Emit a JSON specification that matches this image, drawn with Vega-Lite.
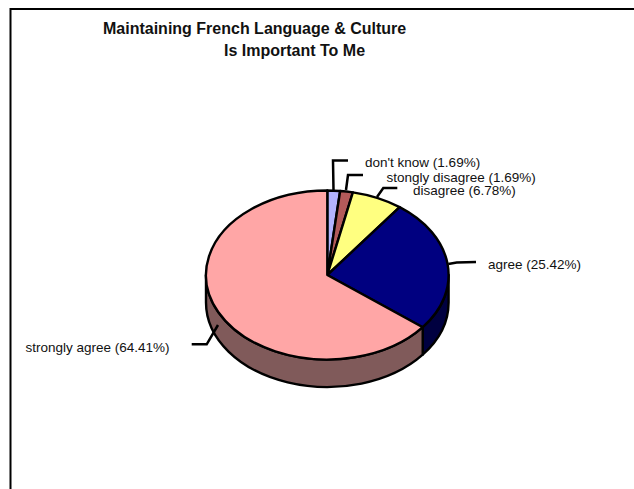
{
"$schema":"https://vega.github.io/schema/vega-lite/v6.json",
"width":634,"height":489,"padding":0,"autosize":{"type":"none"},"background":"white",
"config":{"view":{"stroke":null},"font":"Liberation Sans"},
"data":{"values":[
{"answer":"don't know","percent":1.69,"order":1},
{"answer":"stongly disagree","percent":1.69,"order":2},
{"answer":"disagree","percent":6.78,"order":3},
{"answer":"agree","percent":25.42,"order":4},
{"answer":"strongly agree","percent":64.41,"order":5}
]},
"resolve":{"scale":{"shape":"independent","color":"independent"}},
"layer":[
{"data":{"values":[{"part":"frame"}]},
 "mark":{"type":"point","filled":false,"stroke":"black","strokeWidth":2,"size":4,"opacity":1,"shape":"M-306.5,244.5 L-306.5,-235.5 L317,-235.5"}},
{"transform":[{"filter":"datum.order>=4"}],
 "mark":{"type":"point","filled":true,"opacity":1,"stroke":"black","strokeWidth":2.4,"strokeJoin":"round","size":4},
 "encoding":{
  "shape":{"field":"answer","type":"nominal","legend":null,"scale":{"domain":["agree","strongly agree"],"range":[
   "M105.71,82.68 A121.3,84.5 0 0 0 131.6,30.5 L131.6,58 A121.3,84.5 0 0 1 105.71,110.18 Z",
   "M-111,30.5 A121.3,84.5 0 0 0 105.71,82.68 L105.71,110.18 A121.3,84.5 0 0 1 -111,58 Z"]}},
  "color":{"field":"answer","type":"nominal","legend":null,"scale":{"domain":["agree","strongly agree"],"range":["#000040","#805A5A"]}}
 }},
{"mark":{"type":"point","filled":true,"opacity":1,"stroke":"black","strokeWidth":2.4,"strokeJoin":"round","size":4},
 "encoding":{
  "shape":{"field":"answer","type":"nominal","legend":null,"scale":{"domain":["don't know","stongly disagree","disagree","agree","strongly agree"],"range":[
   "M10.3,30.5 L10.3,-54 A121.3,84.5 0 0 1 23.16,-53.52 Z",
   "M10.3,30.5 L23.16,-53.52 A121.3,84.5 0 0 1 35.87,-52.1 Z",
   "M10.3,30.5 L35.87,-52.1 A121.3,84.5 0 0 1 82.64,-37.33 Z",
   "M10.3,30.5 L82.64,-37.33 A121.3,84.5 0 0 1 105.71,82.68 Z",
   "M10.3,30.5 L105.71,82.68 A121.3,84.5 0 1 1 10.3,-54 Z"]}},
  "color":{"field":"answer","type":"nominal","legend":null,"scale":{"domain":["don't know","stongly disagree","disagree","agree","strongly agree"],"range":["#B3B3FF","#B35A5A","#FFFF80","#000080","#FFA6A6"]}}
 }},
{"mark":{"type":"point","filled":false,"opacity":1,"stroke":"black","strokeWidth":2.5,"size":4},
 "encoding":{
  "shape":{"field":"answer","type":"nominal","legend":null,"scale":{"domain":["don't know","stongly disagree","disagree","agree","strongly agree"],"range":[
   "M16.5,-54.5 L16,-84 L31,-84",
   "M29,-54.5 L31,-69.5 L46,-69.5",
   "M60,-47.5 L66.3,-56.5 L80.3,-56.5",
   "M131.3,19.5 L139.7,18 L159,17.5",
   "M-99,80.5 L-110.3,99.8 L-125.3,99.8"]}}
 }},
{"transform":[{"calculate":"datum.answer + ' (' + format(datum.percent,'.2f') + '%)'","as":"label"}],
 "mark":{"type":"text","align":"left","baseline":"alphabetic","fontSize":13.5,"font":"Liberation Sans","fill":"#111111"},
 "encoding":{
  "x":{"field":"order","type":"quantitative","axis":null,"scale":{"domain":[1,2,3,4,5,6,7],"range":[365,386.5,413,488,25.5,103,224],"nice":false,"zero":false}},
  "y":{"field":"order","type":"quantitative","axis":null,"scale":{"domain":[1,2,3,4,5,6,7],"range":[167,181.5,195,269,352,34,56],"nice":false,"zero":false}},
  "text":{"field":"label","type":"nominal"}
 }},
{"data":{"values":[{"line":"Maintaining French Language & Culture","order":6},{"line":"Is Important To Me","order":7}]},
 "mark":{"type":"text","align":"left","baseline":"alphabetic","fontSize":16,"fontWeight":"bold","font":"Liberation Sans","fill":"#111111"},
 "encoding":{
  "x":{"field":"order","type":"quantitative","axis":null},
  "y":{"field":"order","type":"quantitative","axis":null},
  "text":{"field":"line","type":"nominal"}
 }}
]
}
